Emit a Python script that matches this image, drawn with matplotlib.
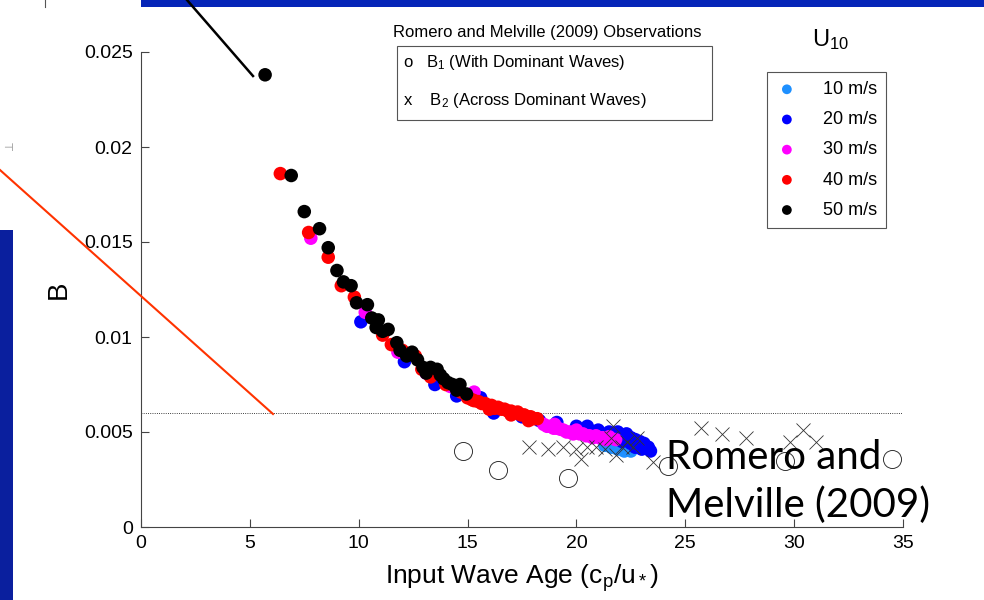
import matplotlib
matplotlib.use('Agg')
import matplotlib.pyplot as plt
from matplotlib.lines import Line2D
from matplotlib.patches import Rectangle
from matplotlib.ticker import FormatStrFormatter

plt.rcParams['font.family'] = ['Liberation Sans', 'DejaVu Sans']
plt.rcParams['mathtext.fontset'] = 'custom'
plt.rcParams['mathtext.rm'] = 'Liberation Sans'
plt.rcParams['mathtext.it'] = 'Liberation Sans'

# Model results, one series per wind speed U10
u10_labels = ['10 m/s', '20 m/s', '30 m/s', '40 m/s', '50 m/s']
u10_colors = ['#1e90ff', '#0000ff', '#ff00ff', '#ff0000', '#000000']

age_10 = [21.3, 21.6, 21.9, 22.2, 22.5]
b_10 = [0.0043, 0.0042, 0.0041, 0.0040, 0.0040]

age_20 = [10.1, 12.1, 13.5, 14.5, 15.6, 16.2, 17.5, 18.3, 19.1, 20.0, 20.5, 21.0, 21.5,
          21.8, 22.0, 22.2, 22.3, 22.4, 22.5, 22.6, 22.8, 23.0, 23.0, 23.2, 23.4,
          21.9, 22.2, 22.5, 22.7, 22.9, 23.1, 23.3, 21.7, 22.1, 22.7]
b_20 = [0.0108, 0.0087, 0.0075, 0.0069, 0.0068, 0.0060, 0.0058, 0.0056, 0.0055, 0.0053, 0.0053,
        0.0051, 0.0050, 0.0049, 0.0046, 0.0047, 0.0049, 0.0046, 0.0044, 0.0045, 0.0044, 0.0043,
        0.0041, 0.0042, 0.0040,
        0.0050, 0.0048, 0.0047, 0.0046, 0.0045, 0.0044, 0.0042, 0.0047, 0.0045, 0.0042]

age_30 = [7.8, 10.3, 11.8, 13.1, 14.2, 15.3, 18.5, 18.8, 19.1, 19.4, 19.7, 20.0, 20.3, 20.6,
          20.9, 21.2, 21.5, 21.8,
          18.65, 18.95, 19.25, 19.55, 19.85, 20.15, 20.45, 20.75, 21.05, 21.35, 19.0, 20.0]
b_30 = [0.0152, 0.0113, 0.0092, 0.0081, 0.0074, 0.0071, 0.0054, 0.0053, 0.0052, 0.0051, 0.0050,
        0.0050, 0.0049, 0.0048, 0.0048, 0.0047, 0.00475, 0.0046,
        0.0053, 0.0052, 0.00515, 0.0050, 0.0049, 0.0049, 0.0048, 0.0047, 0.0047, 0.0046,
        0.0054, 0.0051]

age_40 = [6.4, 7.7, 8.6, 9.2, 9.8, 11.1, 11.5, 12.0, 12.6, 12.9, 13.3, 14.0, 14.7, 15.2, 15.5,
          15.8, 16.1, 16.4, 16.7, 17.0, 17.3, 17.6, 17.9, 18.2,
          15.0, 15.3, 15.65, 15.95, 16.25, 16.55, 16.85, 17.15, 17.45, 17.75, 18.05, 16.0,
          17.0, 17.8]
b_40 = [0.0186, 0.0155, 0.0142, 0.0127, 0.0121, 0.0101, 0.0096, 0.0093, 0.0090, 0.0083, 0.0079,
        0.0075, 0.0071, 0.0067, 0.0066, 0.0065, 0.0064, 0.0063, 0.0062, 0.0061, 0.00605, 0.0059,
        0.0058, 0.0057,
        0.0068, 0.00665, 0.0065, 0.0064, 0.00625, 0.0062, 0.0061, 0.0060, 0.0059, 0.0058,
        0.0057, 0.0062, 0.0059, 0.0056]

age_50 = [5.7, 6.9, 7.5, 8.2, 8.6, 9.0, 9.3, 9.65, 9.9, 10.4, 10.6, 10.8, 11.35, 11.75, 11.9,
          12.45, 12.7, 12.95, 13.3, 13.6, 13.9, 14.3, 14.65, 14.95,
          12.2, 13.1, 13.75, 14.1, 14.5, 11.1, 10.9]
b_50 = [0.0238, 0.0185, 0.0166, 0.0157, 0.0147, 0.0135, 0.0129, 0.0127, 0.0118, 0.0117, 0.0110,
        0.0105, 0.0104, 0.0097, 0.0093, 0.0092, 0.0088, 0.0084, 0.0084, 0.0083, 0.0078, 0.0075,
        0.0075, 0.0070,
        0.0090, 0.0081, 0.0080, 0.0076, 0.0072, 0.0103, 0.0109]

# Romero and Melville (2009) observations
b1_age = [14.8, 16.4, 19.6, 24.2, 29.6, 34.5]
b1_val = [0.0040, 0.0030, 0.0026, 0.0032, 0.0035, 0.0036]

b2_age = [17.8, 18.7, 19.4, 20.0, 20.2, 20.5, 20.9, 21.3, 21.6, 21.7, 21.8, 22.1, 22.3, 22.6,
          22.8, 23.5, 25.7, 26.7, 27.8, 29.8, 30.4, 31.0]
b2_val = [0.0042, 0.0041, 0.0042, 0.0041, 0.0036, 0.0042, 0.0042, 0.0041, 0.0047, 0.0053, 0.0038,
          0.0042, 0.0045, 0.0042, 0.0047, 0.0034, 0.0052, 0.0049, 0.0047, 0.0045, 0.0051, 0.0045]

ref_level = 0.006
x_ticks = [0, 5, 10, 15, 20, 25, 30, 35]
y_ticks = [0, 0.005, 0.01, 0.015, 0.02, 0.025]

W, H = 984, 600
fig = plt.figure(figsize=(W / 100, H / 100), dpi=100)


def fx(px):
    return px / W


def fy(py):
    return 1 - py / H


ax = fig.add_axes([fx(141), fy(527), fx(903) - fx(141), fy(52) - fy(527)])

series = [(age_10, b_10), (age_20, b_20), (age_30, b_30), (age_40, b_40), (age_50, b_50)]
handles = []
for (xs, ys), col, lab in zip(series, u10_colors, u10_labels):
    h = ax.scatter(xs, ys, s=95, color=col, edgecolors='none', label=lab, zorder=3)
    handles.append(h)

ax.plot(b1_age, b1_val, 'o', mfc='none', mec='#333333', mew=0.7, ms=13, zorder=4)
ax.plot(b2_age, b2_val, 'x', color='#333333', mew=0.6, ms=10, zorder=4)
ax.axhline(ref_level, color='black', lw=0.6, ls=':', zorder=2)

ax.set_xlim(0, 35)
ax.set_ylim(0, 0.025)
ax.set_xticks(x_ticks)
ax.set_yticks(y_ticks)
ax.yaxis.set_major_formatter(FormatStrFormatter('%g'))
ax.tick_params(direction='in', length=6, width=0.8, color='#444444', labelsize=14, pad=6)
for side in ['top', 'right']:
    ax.spines[side].set_visible(False)
for side in ['left', 'bottom']:
    ax.spines[side].set_color('#444444')
    ax.spines[side].set_linewidth(0.8)
ax.set_xlabel('Input Wave Age (c$_p$/u$_*$)', fontsize=19, labelpad=7)
ax.set_ylabel('B', fontsize=20, labelpad=9)

# U10 legend
leg = ax.legend(handles=handles, loc='upper left', bbox_to_anchor=(fx(767), fy(72)),
                bbox_transform=fig.transFigure, borderaxespad=0, fontsize=13,
                markerscale=0.72, fancybox=False, edgecolor='#555555', framealpha=1,
                handlelength=1.2, handletextpad=1.4, labelspacing=0.73, borderpad=0.5)
leg.get_frame().set_linewidth(0.8)
fig.text(fx(812), fy(40), 'U$_{10}$', fontsize=17, va='center')

# observations legend
fig.text(fx(547), fy(33), 'Romero and Melville (2009) Observations', fontsize=12,
         ha='center', va='center')
fig.add_artist(Rectangle((fx(397), fy(120)), fx(712) - fx(397), fy(46) - fy(120),
                         transform=fig.transFigure, fill=False, ec='#555555', lw=0.8))
fig.text(fx(403), fy(63), 'o   B$_1$ (With Dominant Waves)', fontsize=12, va='center')
fig.text(fx(403), fy(101), 'x    B$_2$ (Across Dominant Waves)', fontsize=12, va='center')

# slide annotation text
fig.text(fx(666), fy(517), 'Romero and\nMelville (2009)', fontsize=29, family='Lato',
         va='baseline', linespacing=1.35, zorder=5)

# slide decorations
fig.add_artist(Rectangle((fx(141), fy(7)), 1 - fx(141), fy(0) - fy(7),
                         transform=fig.transFigure, color='#0625b8', lw=0))
fig.add_artist(Rectangle((0, 0), fx(13), fy(230), transform=fig.transFigure,
                         color='#0a1f9e', lw=0))
fig.add_artist(Line2D([fx(187), fx(253)], [fy(0), fy(76)], transform=fig.transFigure,
                      color='black', lw=1.8))
fig.add_artist(Line2D([fx(0), fx(273)], [fy(170), fy(414)], transform=fig.transFigure,
                      color='#ff3300', lw=1.5))
fig.add_artist(Line2D([fx(45), fx(45)], [fy(0), fy(7)], transform=fig.transFigure,
                      color='#555555', lw=0.8))
fig.text(fx(8), fy(148), '\u22a3', fontsize=8, color='#888888',
         ha='center', va='center', family='DejaVu Sans')

fig.savefig('out.png', dpi=100)
